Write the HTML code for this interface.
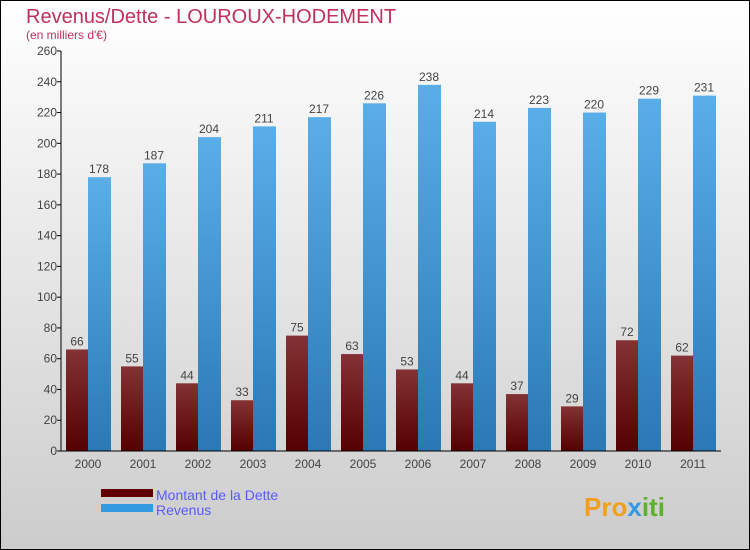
<!DOCTYPE html>
<html><head><meta charset="utf-8"><style>
body{margin:0}
#c{width:748px;height:548px;border:1px solid #000;background:linear-gradient(#fff,#ccc);position:relative;font-family:"Liberation Sans",sans-serif;overflow:hidden}
</style></head><body>
<div id="c">
<svg width="748" height="548" id="svg">
<defs>
<linearGradient id="gd" x1="0" y1="0" x2="0" y2="1"><stop offset="0" stop-color="#843235"/><stop offset="1" stop-color="#550000"/></linearGradient>
<linearGradient id="gr" x1="0" y1="0" x2="0" y2="1"><stop offset="0" stop-color="#5aaee8"/><stop offset="1" stop-color="#2a78b4"/></linearGradient>
</defs>
<text x="25" y="22" font-size="20" fill="#c0305a">Revenus/Dette - LOUROUX-HODEMENT</text>
<text x="25" y="38" font-size="12" fill="#c0305a">(en milliers d'€)</text>
<g id="g"></g>
<rect x="100" y="488" width="52" height="8" fill="#600000"/>
<rect x="100" y="503" width="52" height="8" fill="#3399e0"/>
<text x="155" y="499" font-size="14" fill="#5a5aff">Montant de la Dette</text>
<text x="155" y="514" font-size="14" fill="#5a5aff">Revenus</text>
<text x="583" y="515" font-size="26" font-weight="bold" fill="#f0a020">Pro<tspan fill="#3399e0">x</tspan><tspan fill="#60b030">iti</tspan></text>
</svg></div>
<script>
const years=["2000","2001","2002","2003","2004","2005","2006","2007","2008","2009","2010","2011"];
const dette=[66,55,44,33,75,63,53,44,37,29,72,62];
const revenus=[178,187,204,211,217,226,238,214,223,220,229,231];
const ticks=[0,20,40,60,80,100,120,140,160,180,200,220,240,260];
const g=document.getElementById('g');const NS="http://www.w3.org/2000/svg";
const y0=450,yTop=50,vmax=260,x0=60,slot=55;
const Y=v=>y0-(v/vmax)*(y0-yTop);const X=i=>x0+slot*i;
function mk(t,a){const e=document.createElementNS(NS,t);for(const k in a)e.setAttribute(k,a[k]);g.appendChild(e);return e;}
ticks.forEach(t=>{
 const l=mk('line',{x1:x0-4,x2:x0,y1:Y(t),y2:Y(t),stroke:'#000'});
 
 
 const tx=mk('text',{x:x0-4,y:Y(t)+4,'text-anchor':'end','font-size':12,fill:'#444'});tx.textContent=t;
 
 
});
years.forEach((yr,i)=>{
 const d=mk('rect',{x:X(i)+5,y:Y(dette[i]),width:22,height:y0-Y(dette[i]),fill:'url(#gd)'});
 
 
 const r=mk('rect',{x:X(i)+27,y:Y(revenus[i]),width:23,height:y0-Y(revenus[i]),fill:'url(#gr)'});
 
 
 const a=mk('text',{x:X(i)+16,y:Y(dette[i])-4,'text-anchor':'middle','font-size':12,fill:'#444'});a.textContent=dette[i];
 
 
 const b=mk('text',{x:X(i)+38,y:Y(revenus[i])-4,'text-anchor':'middle','font-size':12,fill:'#444'});b.textContent=revenus[i];
 
 
 const xl=mk('text',{x:X(i)+27,y:467,'text-anchor':'middle','font-size':12,fill:'#444'});xl.textContent=yr;
 
 
});
const ya=mk('line',{x1:x0,x2:x0,y1:yTop,y2:y0,stroke:'#000'});


const xa=mk('line',{x1:x0,x2:X(12),y1:y0,y2:y0,stroke:'#000'});


</script>
</body></html>
